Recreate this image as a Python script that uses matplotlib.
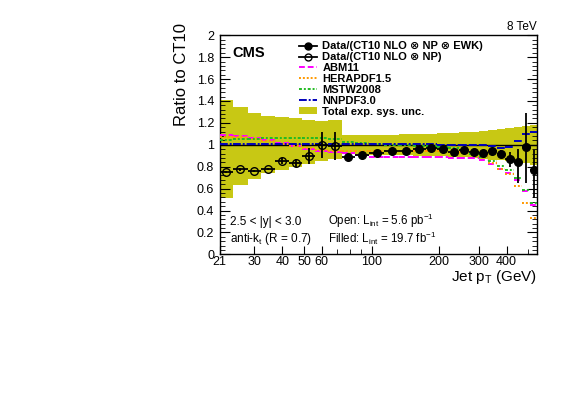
import numpy as np
import matplotlib
matplotlib.use('Agg')
import matplotlib.pyplot as plt
from matplotlib.lines import Line2D
from matplotlib.patches import Patch
from matplotlib.ticker import FixedLocator, FixedFormatter, MultipleLocator, FuncFormatter, NullFormatter

plt.rcParams['font.family'] = ['Liberation Sans', 'DejaVu Sans']
plt.rcParams['mathtext.fontset'] = 'custom'
plt.rcParams['mathtext.rm'] = 'Liberation Sans'
plt.rcParams['mathtext.it'] = 'Liberation Sans:italic'
plt.rcParams['mathtext.bf'] = 'Liberation Sans:bold'

# ---------------- data ----------------
bin_edges = [21, 24, 28, 32, 37, 43, 49, 56, 64, 74, 84, 97, 114, 133, 153, 174,
             196, 220, 245, 272, 300, 330, 362, 395, 430, 468, 507, 548]

band_up = [1.41, 1.345, 1.29, 1.265, 1.252, 1.24, 1.226, 1.218, 1.225,
           1.088, 1.088, 1.09, 1.092, 1.095, 1.098, 1.10, 1.105, 1.11, 1.115,
           1.12, 1.128, 1.135, 1.143, 1.152, 1.16, 1.17, 1.18]
band_lo = [0.515, 0.632, 0.692, 0.74, 0.77, 0.795, 0.825, 0.855, 0.875,
           0.912, 0.912, 0.91, 0.908, 0.905, 0.902, 0.90, 0.895, 0.89, 0.885,
           0.88, 0.872, 0.865, 0.857, 0.848, 0.84, 0.83, 0.82]

# low pile-up data (open circles), bins 21..74
open_ratio = [0.753, 0.775, 0.762, 0.780, 0.854, 0.835, 0.899, 0.996, 0.988]
open_err = [0.012, 0.012, 0.012, 0.012, 0.03, 0.035, 0.07, 0.12, 0.13]

# high-lumi data (filled circles), bins 74..548
filled_ratio = [0.890, 0.905, 0.927, 0.942, 0.940, 0.960, 0.968, 0.963, 0.936,
                0.951, 0.932, 0.922, 0.942, 0.917, 0.867, 0.845, 0.980, 0.772]
filled_err_lo = [0.012, 0.012, 0.012, 0.012, 0.012, 0.012, 0.012, 0.013, 0.014,
                 0.015, 0.016, 0.018, 0.02, 0.04, 0.067, 0.19, 0.33, 0.26]
filled_err_hi = [0.012, 0.012, 0.012, 0.012, 0.012, 0.012, 0.012, 0.013, 0.014,
                 0.015, 0.016, 0.018, 0.02, 0.04, 0.07, 0.12, 0.306, 0.18]

abm11 = [1.092, 1.08, 1.062, 1.04, 1.015, 0.99, 0.965, 0.945, 0.935, 0.925,
         0.905, 0.89, 0.888, 0.886, 0.886, 0.886, 0.885, 0.884, 0.882, 0.878,
         0.865, 0.823, 0.775, 0.742, 0.68, 0.58, 0.45]
herapdf = [1.075, 1.07, 1.055, 1.035, 1.01, 0.99, 0.97, 0.955, 0.945, 0.94,
           0.94, 0.945, 0.945, 0.945, 0.945, 0.945, 0.94, 0.935, 0.93, 0.92,
           0.90, 0.83, 0.78, 0.73, 0.625, 0.47, 0.33]
mstw = [1.045, 1.05, 1.055, 1.058, 1.06, 1.06, 1.06, 1.058, 1.055, 1.03,
        1.012, 1.008, 1.0, 0.995, 0.99, 0.985, 0.978, 0.97, 0.955, 0.912,
        0.89, 0.852, 0.81, 0.77, 0.70, 0.592, 0.465]
nnpdf = [1.004, 1.004, 1.004, 1.004, 1.004, 1.004, 1.004, 1.004, 1.004, 1.004,
         1.004, 1.004, 1.004, 1.004, 1.003, 1.003, 1.002, 1.002, 1.0, 1.0,
         1.0, 0.99, 0.97, 0.98, 1.037, 1.094, 1.113]

xtick_vals = [21, 30, 40, 50, 60, 100, 200, 300, 400]
xtick_labels = ['21', '30', '40', '50', '60', '100', '200', '300', '400']

legend_labels = ['Data/(CT10 NLO \u2297 NP \u2297 EWK)', 'Data/(CT10 NLO \u2297 NP)',
                 'ABM11', 'HERAPDF1.5', 'MSTW2008', 'NNPDF3.0', 'Total exp. sys. unc.']

# ---------------- styles ----------------
band_color = '#C8C814'
c_abm = '#FF00FF'
c_hera = '#FF9900'
c_mstw = '#22BB22'
c_nnpdf = '#0000BB'

fig = plt.figure(figsize=(5.66, 4.0), dpi=100)
ax = fig.add_axes([0.388, 0.364, 0.5613, 0.548])

edges = np.array(bin_edges, dtype=float)
lo_e, hi_e = edges[:-1], edges[1:]
centers = np.sqrt(lo_e * hi_e)

xs = np.repeat(edges, 2)[1:-1]
ax.fill_between(xs, np.repeat(band_lo, 2), np.repeat(band_up, 2),
                color=band_color, lw=0, zorder=1)

ls_abm = (0, (3, 1.5))
ls_hera = (0, (1, 1))
ls_mstw = (0, (1.5, 1, 1, 1))
ls_nnpdf = (0, (4, 1, 1, 1))
ax.hlines(abm11, lo_e, hi_e, colors=c_abm, linestyles=[ls_abm], lw=1.4, zorder=3)
ax.hlines(herapdf, lo_e, hi_e, colors=c_hera, linestyles=[ls_hera], lw=1.4, zorder=3)
ax.hlines(mstw, lo_e, hi_e, colors=c_mstw, linestyles=[ls_mstw], lw=1.4, zorder=3)
ax.hlines(nnpdf, lo_e, hi_e, colors=c_nnpdf, linestyles=[ls_nnpdf], lw=1.4, zorder=3)
ax.axhline(1.0, color='k', lw=1.0, zorder=2)

n_open = len(open_ratio)
co = centers[:n_open]
ax.errorbar(co, open_ratio, yerr=open_err,
            xerr=[co - lo_e[:n_open], hi_e[:n_open] - co],
            fmt='o', mfc='none', mec='k', mew=1.0, ecolor='k', ms=5.5,
            elinewidth=1.3, capsize=0, zorder=5)
cf = centers[n_open:]
ax.errorbar(cf, filled_ratio, yerr=[filled_err_lo, filled_err_hi],
            xerr=[cf - lo_e[n_open:], hi_e[n_open:] - cf],
            fmt='o', mfc='k', mec='k', ecolor='k', ms=5.5,
            elinewidth=1.3, capsize=0, zorder=5)

ax.set_xscale('log')
ax.set_xlim(bin_edges[0], bin_edges[-1])
ax.set_ylim(0, 2)
ax.xaxis.set_major_locator(FixedLocator(xtick_vals))
ax.xaxis.set_major_formatter(FixedFormatter(xtick_labels))
ax.xaxis.set_minor_locator(FixedLocator([70, 80, 90, 500]))
ax.xaxis.set_minor_formatter(NullFormatter())
ax.yaxis.set_major_locator(MultipleLocator(0.2))
ax.yaxis.set_minor_locator(MultipleLocator(0.04))
ax.yaxis.set_major_formatter(FuncFormatter(lambda v, p: '%g' % round(v, 2)))
ax.tick_params(which='both', direction='in', right=True, top=False, labelsize=9)
ax.tick_params(axis='y', which='major', length=7, pad=4)
ax.tick_params(axis='y', which='minor', length=3.5)
ax.tick_params(axis='x', which='major', length=6, pad=1.5)
ax.tick_params(axis='x', which='minor', length=3.5)
for s in ax.spines.values():
    s.set_linewidth(1.0)

fig.text(0.32, 1 - 75.0 / 400, 'Ratio to CT10', rotation=90, fontsize=12,
         ha='center', va='center')
fig.text(0.949, 1 - 277.5 / 400, r'Jet p$_{\mathrm{T}}$ (GeV)', fontsize=11,
         ha='right', va='center')
fig.text(0.949, 1 - 27.0 / 400, '8 TeV', fontsize=8.5, ha='right', va='center')

ax.text(0.04, 0.918, 'CMS', transform=ax.transAxes, fontsize=10.5,
        fontweight='bold', ha='left', va='center')
ax.text(0.033, 0.150, '2.5 < |y| < 3.0', transform=ax.transAxes, fontsize=8.5,
        ha='left', va='center')
ax.text(0.033, 0.072, r'anti-k$_{\mathrm{t}}$ (R = 0.7)', transform=ax.transAxes,
        fontsize=8.5, ha='left', va='center')
ax.text(0.341, 0.153, r'Open: L$_{\mathrm{int}}$ = 5.6 pb$^{\mathrm{-1}}$',
        transform=ax.transAxes, fontsize=8.3, ha='left', va='center')
ax.text(0.341, 0.071, r'Filled: L$_{\mathrm{int}}$ = 19.7 fb$^{\mathrm{-1}}$',
        transform=ax.transAxes, fontsize=8.3, ha='left', va='center')

handles = [
    Line2D([], [], color='k', marker='o', mfc='k', ms=5, lw=1.3),
    Line2D([], [], color='k', marker='o', mfc='none', ms=5, lw=1.3),
    Line2D([], [], color=c_abm, ls=ls_abm, lw=1.4),
    Line2D([], [], color=c_hera, ls=ls_hera, lw=1.4),
    Line2D([], [], color=c_mstw, ls=ls_mstw, lw=1.4),
    Line2D([], [], color=c_nnpdf, ls=ls_nnpdf, lw=1.4),
    Patch(facecolor=band_color, edgecolor='none'),
]
leg = ax.legend(handles, legend_labels, loc='upper left',
                bbox_to_anchor=(0.25, 0.972), frameon=False,
                prop={'weight': 'bold', 'size': 8.0},
                handlelength=1.6, handletextpad=0.5, labelspacing=0.08,
                borderpad=0, borderaxespad=0, numpoints=1, handleheight=0.6)

fig.savefig('out.png', dpi=100)
